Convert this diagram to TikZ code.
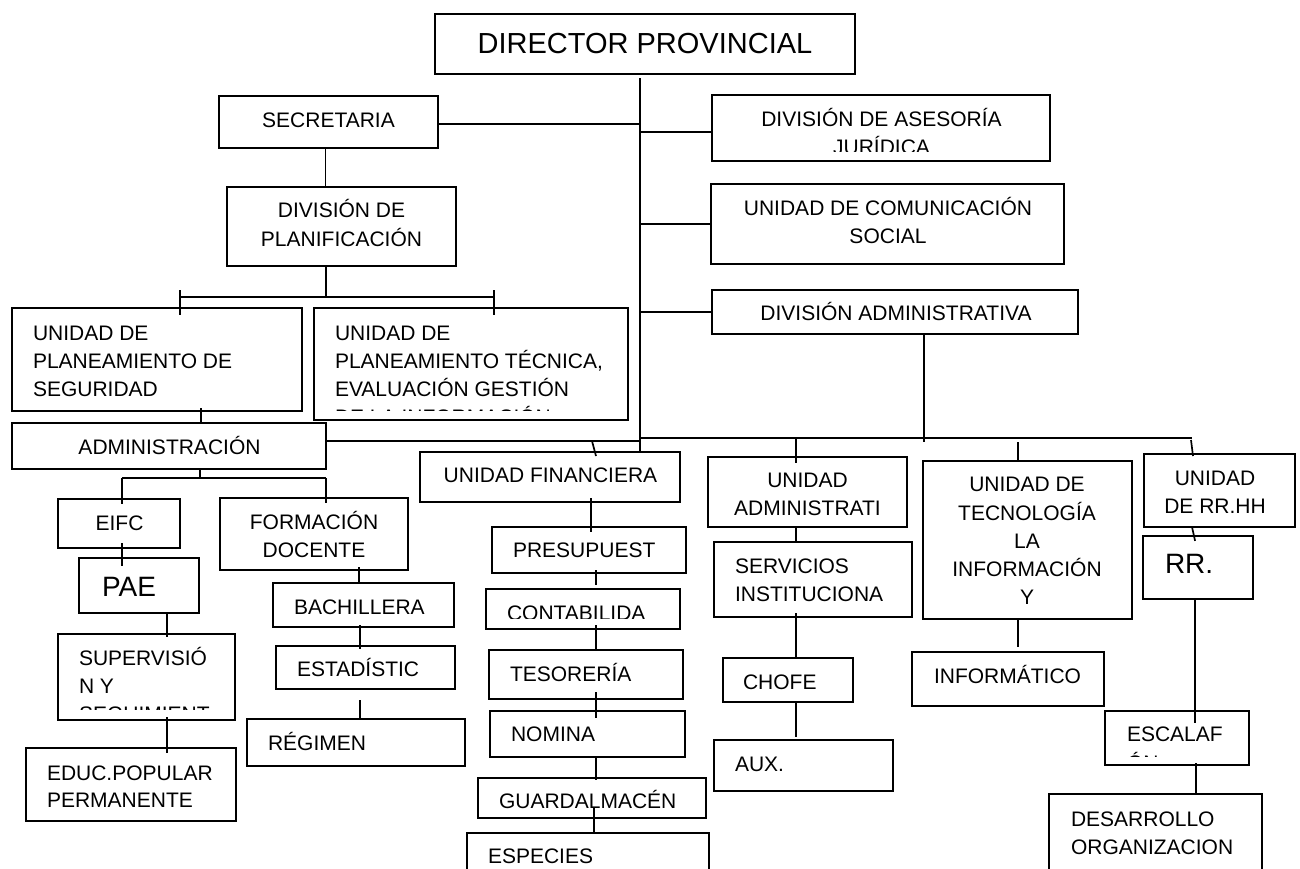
\documentclass[tikz,border=0pt]{standalone}
\usepackage{fontspec}
\setmainfont{Liberation Sans}
\usetikzlibrary{calc}
\newcounter{tn}
\tikzset{
 box/.style={draw=black,line width=1.7pt,inner sep=0pt,outer sep=0pt,rectangle},
 link/.style={draw=black,line width=1.7pt},
 txt/.style={inner sep=0pt,outer sep=0pt,font=\fontsize{21}{28}\selectfont,anchor=base west},
 big/.style={font=\fontsize{28}{34}\selectfont},
 ttl/.style={font=\fontsize{29}{35}\selectfont},
}
\newcommand\bx[5]{\pgfmathsetmacro\bxw{#4-#2}\pgfmathsetmacro\bxh{#5-#3}\node[box,minimum width=\bxw pt,minimum height=\bxh pt] (#1) at ({(#2+#4)/2},{(#3+#5)/2}) {};}
\newcommand\tx[4][]{\stepcounter{tn}\node[txt,#1] (t\arabic{tn}) at (#2,#3) {#4};}
\newcommand\vconn[4][]{\draw[link,#1] (#2.south -| #4,0) -- (#3.north -| #4,0);}
\begin{document}
\begin{tikzpicture}[x=1pt,y=-1pt]
\clip (0,0) rectangle (1300,868);
\fill[white] (0,0) rectangle (1300,868);
% boxes
\bx{dir}{435}{14}{855}{74}
\bx{secr}{219}{96}{438}{148}
\bx{plan}{227}{187}{456}{266}
\bx{seg}{12}{308}{302}{411}
\bx{tec}{314}{308}{628}{420}
\bx{adm}{12}{423}{326}{469}
\bx{eifc}{58}{499}{180}{548}
\bx{pae}{79}{558}{199}{613}
\bx{sup}{58}{634}{235}{720}
\bx{educ}{26}{748}{236}{821}
\bx{form}{220}{498}{408}{570}
\bx{bach}{273}{583}{454}{627}
\bx{est}{276}{646}{455}{689}
\bx{reg}{247}{719}{465}{766}
\bx{fin}{420}{452}{680}{502}
\bx{pres}{492}{527}{686}{573}
\bx{cont}{486}{589}{680}{629}
\bx{tes}{489}{650}{683}{699}
\bx{nom}{490}{711}{685}{757}
\bx{guard}{478}{778}{706}{818}
\bx{esp}{467}{833}{709}{900}
\bx{uadm}{708}{457}{907}{527}
\bx{serv}{714}{542}{912}{617}
\bx{chofe}{723}{658}{853}{702}
\bx{aux}{714}{740}{893}{791}
\bx{tecn}{923}{461}{1132}{619}
\bx{info}{912}{652}{1104}{706}
\bx{rrhh}{1144}{454}{1295}{527}
\bx{rr}{1143}{536}{1253}{599}
\bx{esc}{1105}{711}{1249}{765}
\bx{des}{1049}{794}{1262}{900}
\bx{jur}{712}{95}{1050}{161}
\bx{com}{711}{184}{1064}{264}
\bx{dadm}{712}{290}{1078}{334}
% texts
\tx[ttl,anchor=base]{645}{53}{DIRECTOR PROVINCIAL}
\tx[anchor=base]{328.5}{127}{SECRETARIA}
\tx[anchor=base]{341.5}{217.7}{DIVISIÓN DE}
\tx[anchor=base]{341.5}{246.7}{PLANIFICACIÓN}
\tx{33}{340}{UNIDAD DE}
\tx{33}{368}{PLANEAMIENTO DE}
\tx{33}{396}{SEGURIDAD}
\tx{335}{340}{UNIDAD DE}
\tx{335}{368}{PLANEAMIENTO TÉCNICA,}
\tx{335}{396}{EVALUACIÓN GESTIÓN}
\begin{scope}
\clip (314,400) rectangle (628,410);
\tx{335}{424}{DE LA INFORMACIÓN}
\end{scope}
\tx[anchor=base]{169.5}{454.3}{ADMINISTRACIÓN}
\tx[anchor=base]{119.5}{530}{EIFC}
\tx[big]{102}{596.7}{PAE}
\tx{79}{665}{SUPERVISIÓ}
\tx{79}{693.3}{N Y}
\begin{scope}
\clip (58,698) rectangle (235,709);
\tx{79}{721.6}{SEGUIMIENT}
\end{scope}
\tx{47}{780}{EDUC.POPULAR}
\tx{47}{807.7}{PERMANENTE}
\tx[anchor=base]{314}{529.3}{FORMACIÓN}
\tx[anchor=base]{314}{557.3}{DOCENTE}
\tx{294}{614}{BACHILLERA}
\tx{297}{676.7}{ESTADÍSTIC}
\tx{268}{750.7}{RÉGIMEN}
\tx[anchor=base]{550.5}{482.3}{UNIDAD FINANCIERA}
\tx{513}{557.3}{PRESUPUEST}
\begin{scope}
\clip (486,589) rectangle (680,618.8);
\tx{507}{620}{CONTABILIDA}
\end{scope}
\tx{510}{681.7}{TESORERÍA}
\tx{511}{741.7}{NOMINA}
\tx{499}{808.3}{GUARDALMACÉN}
\tx{488}{863}{ESPECIES}
\tx[anchor=base]{807.5}{487.3}{UNIDAD}
\tx[anchor=base]{807.5}{515}{ADMINISTRATI}
\tx{735}{573.3}{SERVICIOS}
\tx{735}{601.7}{INSTITUCIONA}
\tx{743}{689.3}{CHOFE}
\tx{735}{771.7}{AUX.}
\tx[anchor=base]{1027}{491.7}{UNIDAD DE}
\tx[anchor=base]{1027}{520.7}{TECNOLOGÍA}
\tx[anchor=base]{1027}{548.3}{LA}
\tx[anchor=base]{1027}{576.7}{INFORMACIÓN}
\tx[anchor=base]{1027}{604}{Y}
\tx[anchor=base]{1007.5}{683.3}{INFORMÁTICO}
\tx[anchor=base]{1215}{485}{UNIDAD}
\tx[anchor=base]{1215}{513.3}{DE RR.HH}
\tx[big]{1165}{573.3}{RR.}
\tx{1127}{741.7}{ESCALAF}
\begin{scope}
\clip (1105,745) rectangle (1249,756);
\tx{1127}{770}{ÓN}
\end{scope}
\tx{1071}{826.7}{DESARROLLO}
\tx{1071}{854}{ORGANIZACION}
\tx[anchor=base]{881.5}{126.7}{DIVISIÓN DE ASESORÍA}
\begin{scope}
\clip (712,130) rectangle (1050,151);
\tx[anchor=base]{881.5}{154.7}{JURÍDICA}
\end{scope}
\tx[anchor=base]{888}{215}{UNIDAD DE COMUNICACIÓN}
\tx[anchor=base]{888}{243.3}{SOCIAL}
\tx[anchor=base]{896}{320.7}{DIVISIÓN ADMINISTRATIVA}
% connectors
\coordinate (trunk) at (640,78);
\coordinate (bus) at (640,438);
\draw[link] (trunk) -- (fin.north -| trunk);
\draw[link] (secr.east |- 0,124) -- (trunk |- 0,124);
\draw[link] (trunk |- 0,132) -- (jur.west |- 0,132);
\draw[link] (trunk |- com.west) -- (com.west);
\draw[link] (trunk |- dadm.west) -- (dadm.west);
\draw[link] (bus) -- (1192,438) coordinate (busR);
\draw[link] (adm.east |- 0,440.7) -- (trunk |- 0,440.7);
\draw[link] (dadm.south -| 924,0) -- (924,442);
\draw[link,shorten >=-6pt] (bus -| 796,0) -- (uadm.north -| 796,0);
\draw[link,shorten <=4pt] (bus -| 1018,0) -- (tecn.north -| 1018,0);
\draw[link] ($(busR)+(-1,2)$) -- ($(rrhh.north -| busR)+(1,2)$);
\draw[link] (592,441) -- ($(fin.north -| 596,0)+(0,4)$);
% planning bracket
\coordinate (brM) at (326,297);
\draw[link] (plan.south -| brM) -- (brM);
\draw[link] (180,297) coordinate (brL) -- (494,297) coordinate (brR);
\draw[link] ($(brL)+(0,-7)$) -- ($(seg.north -| brL)+(0,7)$);
\draw[link] ($(brR)+(0,-7)$) -- ($(tec.north -| brR)+(0,7)$);
\vconn{secr}{plan}{325.5}
\vconn[shorten <=-3pt]{seg}{adm}{201}
% administration bracket
\coordinate (abM) at (200,478);
\draw[link] (adm.south -| abM) -- (abM);
\draw[link] (122,478) coordinate (abL) -- (326,478) coordinate (abR);
\draw[link,shorten >=-5pt] (abL) -- (eifc.north -| abL);
\draw[link,shorten >=-5pt] (abR) -- (form.north -| abR);
\vconn[shorten <=-5pt,shorten >=-8pt]{eifc}{pae}{122}
\vconn[shorten >=-3pt]{pae}{sup}{167}
\vconn[shorten <=-3pt,shorten >=-5pt]{sup}{educ}{167}
\vconn[shorten <=-3pt]{form}{bach}{359}
\vconn[shorten <=-2pt,shorten >=-3pt]{bach}{est}{360}
\vconn[shorten <=11pt]{est}{reg}{360}
\vconn[shorten <=-4pt,shorten >=-5pt]{fin}{pres}{591}
\vconn[shorten <=-3pt,shorten >=4pt]{pres}{cont}{596}
\vconn[shorten <=-4pt]{cont}{tes}{596}
\vconn[shorten <=-7pt,shorten >=-7pt]{tes}{nom}{596}
\vconn[shorten >=-2pt]{nom}{guard}{596}
\vconn[shorten <=-10pt]{guard}{esp}{594}
\vconn{uadm}{serv}{796}
\vconn[shorten <=-4pt]{serv}{chofe}{796}
\vconn[shorten >=3pt]{chofe}{aux}{796}
\vconn[shorten >=5pt]{tecn}{info}{1018}
\draw[link,shorten >=-5pt] (rrhh.south -| 1192,0) -- (rr.north -| 1194,0);
\vconn[shorten >=-12pt]{rr}{esc}{1195}
\vconn[shorten <=-2pt,shorten >=-1pt]{esc}{des}{1196}
\end{tikzpicture}
\end{document}
